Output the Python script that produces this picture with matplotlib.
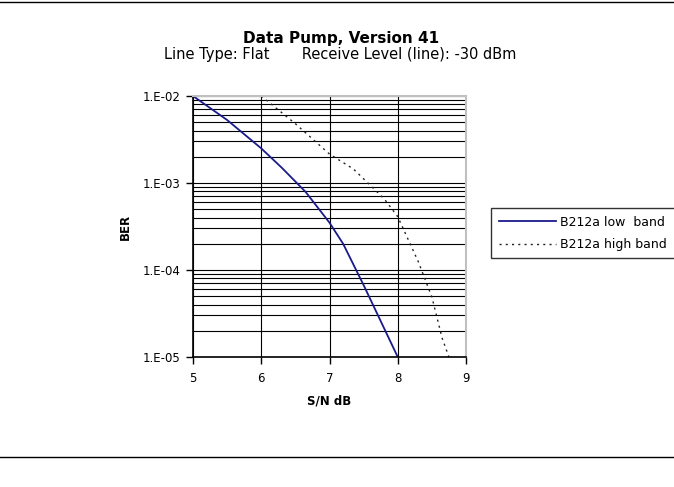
import matplotlib
matplotlib.use("Agg")
import matplotlib.pyplot as plt
from matplotlib.ticker import LogLocator, NullFormatter
import numpy as np

plt.rcParams['font.family'] = ['DejaVu Sans']

title = "Data Pump, Version 41"
subtitle = "Line Type: Flat       Receive Level (line): -30 dBm"
x_label = "S/N dB"
y_label = "BER"

low_x = [5.0, 5.5, 6.0, 6.3, 6.65, 7.0, 7.2, 7.5, 8.0]
low_y = [1.0e-2, 5.3e-3, 2.5e-3, 1.5e-3, 7.9e-4, 3.5e-4, 2.0e-4, 6.7e-5, 1.0e-5]
high_x = [6.0, 6.5, 7.0, 7.35, 7.8, 8.0, 8.3, 8.5, 8.65, 8.75]
high_y = [1.0e-2, 4.8e-3, 2.15e-3, 1.45e-3, 6.6e-4, 4.1e-4, 1.25e-4, 4.9e-5, 1.65e-5, 1.0e-5]
x_ticks = [5, 6, 7, 8, 9]
y_ticks = [1e-2, 1e-3, 1e-4, 1e-5]
y_tick_labels = ["1.E-02", "1.E-03", "1.E-04", "1.E-05"]

fig = plt.figure(figsize=(6.74, 4.87), dpi=100)
ax = fig.add_axes([193/674, 1-357/487, (466-193)/674, (357-96)/487])

ax.set_yscale('log')
ax.set_xlim(5, 9)
ax.set_ylim(1e-5, 1e-2)

ax.yaxis.set_minor_locator(LogLocator(base=10, subs=np.arange(2, 10)))
ax.yaxis.set_minor_formatter(NullFormatter())
ax.grid(True, which='both', axis='y', color='black', linewidth=0.8)
ax.grid(True, which='major', axis='x', color='black', linewidth=0.8)
ax.set_axisbelow(True)

l1, = ax.plot(low_x, low_y, color='#1a1a8c', linewidth=1.3, label='B212a low  band')
l2, = ax.plot(high_x, high_y, color='#222222', linewidth=1.0, linestyle=(0, (1.5, 3)),
              label='B212a high band')

ax.set_xticks(x_ticks)
ax.set_yticks(y_ticks)
ax.set_yticklabels(y_tick_labels)
ax.tick_params(axis='both', which='major', direction='out', length=5, width=1, labelsize=8.5)
ax.tick_params(axis='x', which='major', pad=6)
ax.tick_params(axis='y', which='major', pad=4)
ax.tick_params(axis='y', which='minor', length=0)

for s in ['top', 'right']:
    ax.spines[s].set_color('#c0c0c0')
    ax.spines[s].set_linewidth(1.5)
for s in ['left', 'bottom']:
    ax.spines[s].set_color('black')
    ax.spines[s].set_linewidth(1.2)

ax.set_xlabel(x_label, fontsize=8.5, fontweight='bold', labelpad=7)
ax.set_ylabel(y_label, fontsize=8.5, fontweight='bold', labelpad=8)

fig.text(341/674, 1-38/487, title, ha='center', va='center', fontsize=11, fontweight='bold')
fig.text(340/674, 1-55/487, subtitle, ha='center', va='center', fontsize=10.5)

fig.add_artist(plt.Line2D([0, 1], [1-2/487, 1-2/487], color='black', linewidth=1))
fig.add_artist(plt.Line2D([0, 1], [1-457/487, 1-457/487], color='black', linewidth=1))

leg = fig.legend(handles=[l1, l2], loc='upper left',
                 bbox_to_anchor=(491/674, 1-208/487, 200/674, 0.0), mode='expand',
                 fontsize=9, frameon=True, fancybox=False, edgecolor='black',
                 handlelength=4.6, handletextpad=0.3, borderpad=0.6, labelspacing=0.75,
                 borderaxespad=0)
leg.get_frame().set_linewidth(1)

fig.savefig('out.png', dpi=100)
